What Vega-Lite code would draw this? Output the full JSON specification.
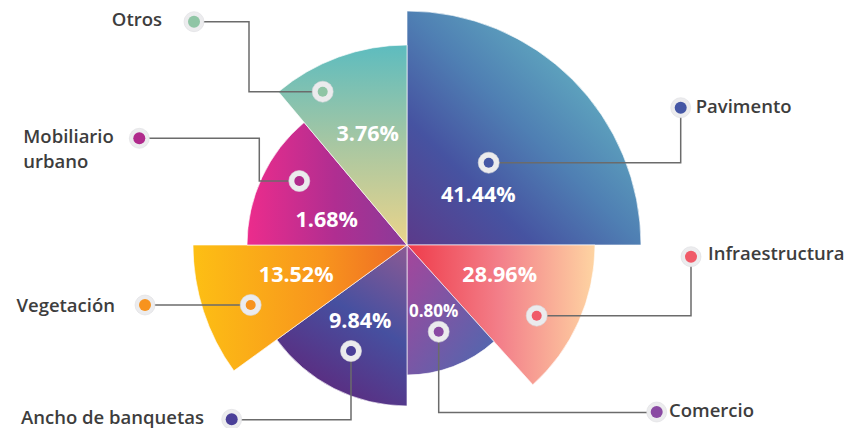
{
  "$schema": "https://vega.github.io/schema/vega-lite/v6.json",
  "autosize": {"type": "none"},
  "padding": {"left": 0, "top": 62, "right": 34, "bottom": 0},
  "width": 814,
  "height": 366,
  "background": "#ffffff",
  "config": {"view": {"stroke": null}},
  "datasets": {
    "sectores": [
      {"categoria": "Pavimento", "valor": 0.4144, "orden": 1, "angulo": 90, "radio": 234},
      {"categoria": "Infraestructura", "valor": 0.2896, "orden": 2, "angulo": 48, "radio": 188},
      {"categoria": "Comercio", "valor": 0.008, "orden": 3, "angulo": 42, "radio": 130},
      {"categoria": "Ancho de banquetas", "valor": 0.0984, "orden": 4, "angulo": 54, "radio": 161},
      {"categoria": "Vegetación", "valor": 0.1352, "orden": 5, "angulo": 36, "radio": 214},
      {"categoria": "Mobiliario urbano", "valor": 0.0168, "orden": 6, "angulo": 50, "radio": 160},
      {"categoria": "Otros", "valor": 0.0376, "orden": 7, "angulo": 40, "radio": 200}
    ],
    "anotaciones": [
      {"categoria": "Pavimento", "valor": 0.4144, "etiqueta": ["Pavimento"], "lado": "izq", "mx": 81.7, "my": 82.3, "ox": 273.7, "oy": 137.3, "tx": 288.7, "ty": 131.7, "px": 71.3, "py": 42.7},
      {"categoria": "Infraestructura", "valor": 0.2896, "etiqueta": ["Infraestructura"], "lado": "izq", "mx": 129.7, "my": -70.7, "ox": 284, "oy": -11.7, "tx": 301, "ty": -15, "px": 92.7, "py": -37.3},
      {"categoria": "Comercio", "valor": 0.008, "etiqueta": ["Comercio"], "lado": "izq", "mx": 31.7, "my": -86.7, "ox": 249.7, "oy": -167, "tx": 262, "ty": -171.7, "px": 26.7, "py": -72.3},
      {"categoria": "Ancho de banquetas", "valor": 0.0984, "etiqueta": ["Ancho de banquetas"], "lado": "der", "mx": -56, "my": -106, "ox": -175.3, "oy": -174.3, "tx": -203, "ty": -179, "px": -46.8, "py": -82.7},
      {"categoria": "Vegetación", "valor": 0.1352, "etiqueta": ["Vegetación"], "lado": "der", "mx": -156.3, "my": -60, "ox": -262, "oy": -60, "tx": -292, "ty": -66.7, "px": -110.8, "py": -37.3},
      {"categoria": "Mobiliario urbano", "valor": 0.0168, "etiqueta": ["Mobiliario", "urbano"], "lado": "izq", "mx": -107.7, "my": 64, "ox": -267.7, "oy": 106.7, "tx": -383.7, "ty": 102.3, "px": -80.3, "py": 18.3},
      {"categoria": "Otros", "valor": 0.0376, "etiqueta": ["Otros"], "lado": "der", "mx": -84.3, "my": 153.3, "ox": -213, "oy": 223.3, "tx": -245, "ty": 219, "px": -39.3, "py": 104.3}
    ],
    "guias": [
      {"categoria": "Pavimento", "paso": 1, "x": 81.7, "y": 82.3},
      {"categoria": "Pavimento", "paso": 2, "x": 273.7, "y": 82.3},
      {"categoria": "Pavimento", "paso": 3, "x": 273.7, "y": 137.3},
      {"categoria": "Infraestructura", "paso": 1, "x": 129.7, "y": -70.7},
      {"categoria": "Infraestructura", "paso": 2, "x": 284, "y": -70.7},
      {"categoria": "Infraestructura", "paso": 3, "x": 284, "y": -11.7},
      {"categoria": "Comercio", "paso": 1, "x": 31.7, "y": -86.7},
      {"categoria": "Comercio", "paso": 2, "x": 31.7, "y": -167.5},
      {"categoria": "Comercio", "paso": 3, "x": 249.7, "y": -167.5},
      {"categoria": "Ancho de banquetas", "paso": 1, "x": -56, "y": -106},
      {"categoria": "Ancho de banquetas", "paso": 2, "x": -56, "y": -174.8},
      {"categoria": "Ancho de banquetas", "paso": 3, "x": -175.3, "y": -174.8},
      {"categoria": "Vegetación", "paso": 1, "x": -262, "y": -60},
      {"categoria": "Vegetación", "paso": 2, "x": -156.3, "y": -60},
      {"categoria": "Mobiliario urbano", "paso": 1, "x": -267.7, "y": 106.7},
      {"categoria": "Mobiliario urbano", "paso": 2, "x": -147.7, "y": 106.7},
      {"categoria": "Mobiliario urbano", "paso": 3, "x": -147.7, "y": 64},
      {"categoria": "Mobiliario urbano", "paso": 4, "x": -107.7, "y": 64},
      {"categoria": "Otros", "paso": 1, "x": -213, "y": 223.3},
      {"categoria": "Otros", "paso": 2, "x": -158, "y": 223.3},
      {"categoria": "Otros", "paso": 3, "x": -158, "y": 153.3},
      {"categoria": "Otros", "paso": 4, "x": -84.3, "y": 153.3}
    ]
  },
  "layer": [
    {
      "data": {"name": "sectores"},
      "transform": [
        {"stack": "angulo", "groupby": [], "sort": [{"field": "orden", "order": "ascending"}], "as": ["inicio", "fin"]}
      ],
      "mark": {"type": "arc", "stroke": "#ffffff", "strokeWidth": 0.8, "strokeOpacity": 0.8},
      "encoding": {
        "theta": {"field": "inicio", "type": "quantitative", "scale": {"domain": [0, 360], "range": [0, 6.283185307179586], "nice": false, "zero": true}},
        "theta2": {"field": "fin"},
        "radius": {"field": "radio", "type": "quantitative", "scale": {"type": "linear", "domain": [0, 183], "range": [0, 183], "nice": false, "zero": true}},
        "fill": {
          "condition": [
            {"test": "datum.categoria === 'Pavimento'", "value": {"gradient": "linear", "x1": 0, "y1": 1, "x2": 1, "y2": 0, "stops": [{"offset": 0, "color": "#5b3a8a"}, {"offset": 0.27, "color": "#4653a1"}, {"offset": 0.5, "color": "#4f7fb3"}, {"offset": 1, "color": "#70d0cb"}]}},
            {"test": "datum.categoria === 'Infraestructura'", "value": {"gradient": "linear", "x1": 0, "y1": 0, "x2": 1, "y2": 0, "stops": [{"offset": 0, "color": "#ef3b4a"}, {"offset": 0.5, "color": "#f3808a"}, {"offset": 1, "color": "#fed4a2"}]}},
            {"test": "datum.categoria === 'Comercio'", "value": {"gradient": "linear", "x1": 0, "y1": 0, "x2": 1, "y2": 1, "stops": [{"offset": 0, "color": "#a6459b"}, {"offset": 1, "color": "#4a6ab0"}]}},
            {"test": "datum.categoria === 'Ancho de banquetas'", "value": {"gradient": "linear", "x1": 1, "y1": 0, "x2": 0.5, "y2": 1, "stops": [{"offset": 0, "color": "#8c5a94"}, {"offset": 0.5, "color": "#4650a0"}, {"offset": 1, "color": "#5c2b7f"}]}},
            {"test": "datum.categoria === 'Vegetación'", "value": {"gradient": "linear", "x1": 0, "y1": 0, "x2": 1, "y2": 0, "stops": [{"offset": 0, "color": "#fdbf14"}, {"offset": 0.6, "color": "#f8951d"}, {"offset": 1, "color": "#ee6a25"}]}},
            {"test": "datum.categoria === 'Mobiliario urbano'", "value": {"gradient": "linear", "x1": 0, "y1": 0, "x2": 1, "y2": 0, "stops": [{"offset": 0, "color": "#ec2c8c"}, {"offset": 0.55, "color": "#b02e91"}, {"offset": 1, "color": "#8a3b99"}]}}
          ],
          "value": {"gradient": "linear", "x1": 0, "y1": 0, "x2": 0, "y2": 1, "stops": [{"offset": 0, "color": "#5dbcbf"}, {"offset": 0.5, "color": "#a8c7a2"}, {"offset": 1, "color": "#ebd48a"}]}
        }
      }
    },
    {
      "data": {"name": "guias"},
      "mark": {"type": "line", "color": "#6b6b6b", "strokeWidth": 1.5, "interpolate": "linear"},
      "encoding": {
        "x": {"field": "x", "type": "quantitative", "scale": {"domain": [-407, 407], "nice": false, "zero": false}, "axis": null},
        "y": {"field": "y", "type": "quantitative", "scale": {"domain": [-183, 183], "nice": false, "zero": false}, "axis": null},
        "detail": {"field": "categoria"},
        "order": {"field": "paso", "type": "quantitative"}
      }
    },
    {
      "data": {"name": "anotaciones"},
      "mark": {"type": "point", "shape": "circle", "filled": true, "size": 441, "fill": "#ebebed", "stroke": "#d9d9dc", "strokeWidth": 0.6, "opacity": 1},
      "encoding": {
        "x": {"field": "mx", "type": "quantitative"},
        "y": {"field": "my", "type": "quantitative"}
      }
    },
    {
      "data": {"name": "anotaciones"},
      "mark": {"type": "point", "shape": "circle", "filled": true, "size": 400, "fill": "#ececee", "stroke": "#dedee0", "strokeWidth": 0.6, "opacity": 1},
      "encoding": {
        "x": {"field": "ox", "type": "quantitative"},
        "y": {"field": "oy", "type": "quantitative"}
      }
    },
    {
      "data": {"name": "anotaciones"},
      "mark": {"type": "point", "shape": "circle", "filled": true, "size": 100, "opacity": 1},
      "encoding": {
        "x": {"field": "mx", "type": "quantitative"},
        "y": {"field": "my", "type": "quantitative"},
        "fill": {"field": "categoria", "type": "nominal", "legend": null, "scale": {"domain": ["Pavimento", "Infraestructura", "Comercio", "Ancho de banquetas", "Vegetación", "Mobiliario urbano", "Otros"], "range": ["#4557a5", "#f05a68", "#8a4aa3", "#4a3f98", "#f7931e", "#b02a8c", "#8fc5a5"]}}
      }
    },
    {
      "data": {"name": "anotaciones"},
      "mark": {"type": "point", "shape": "circle", "filled": true, "size": 144, "opacity": 1},
      "encoding": {
        "x": {"field": "ox", "type": "quantitative"},
        "y": {"field": "oy", "type": "quantitative"},
        "fill": {"field": "categoria", "type": "nominal", "legend": null}
      }
    },
    {
      "data": {"name": "anotaciones"},
      "mark": {"type": "text", "align": "center", "baseline": "alphabetic", "font": "Open Sans", "fontWeight": "bold", "color": "#ffffff"},
      "encoding": {
        "x": {"field": "px", "type": "quantitative"},
        "y": {"field": "py", "type": "quantitative"},
        "text": {"field": "valor", "type": "quantitative", "format": ".2%"},
        "size": {"condition": {"test": "datum.valor < 0.01", "value": 17}, "value": 21.5}
      }
    },
    {
      "data": {"name": "anotaciones"},
      "transform": [{"filter": "datum.lado === 'izq'"}],
      "mark": {"type": "text", "align": "left", "baseline": "alphabetic", "font": "Open Sans", "fontWeight": 600, "fontSize": 18.5, "lineHeight": 25, "color": "#3d3d3d"},
      "encoding": {
        "x": {"field": "tx", "type": "quantitative"},
        "y": {"field": "ty", "type": "quantitative"},
        "text": {"field": "etiqueta"}
      }
    },
    {
      "data": {"name": "anotaciones"},
      "transform": [{"filter": "datum.lado === 'der'"}],
      "mark": {"type": "text", "align": "right", "baseline": "alphabetic", "font": "Open Sans", "fontWeight": 600, "fontSize": 18.5, "color": "#3d3d3d"},
      "encoding": {
        "x": {"field": "tx", "type": "quantitative"},
        "y": {"field": "ty", "type": "quantitative"},
        "text": {"field": "etiqueta"}
      }
    }
  ]
}
